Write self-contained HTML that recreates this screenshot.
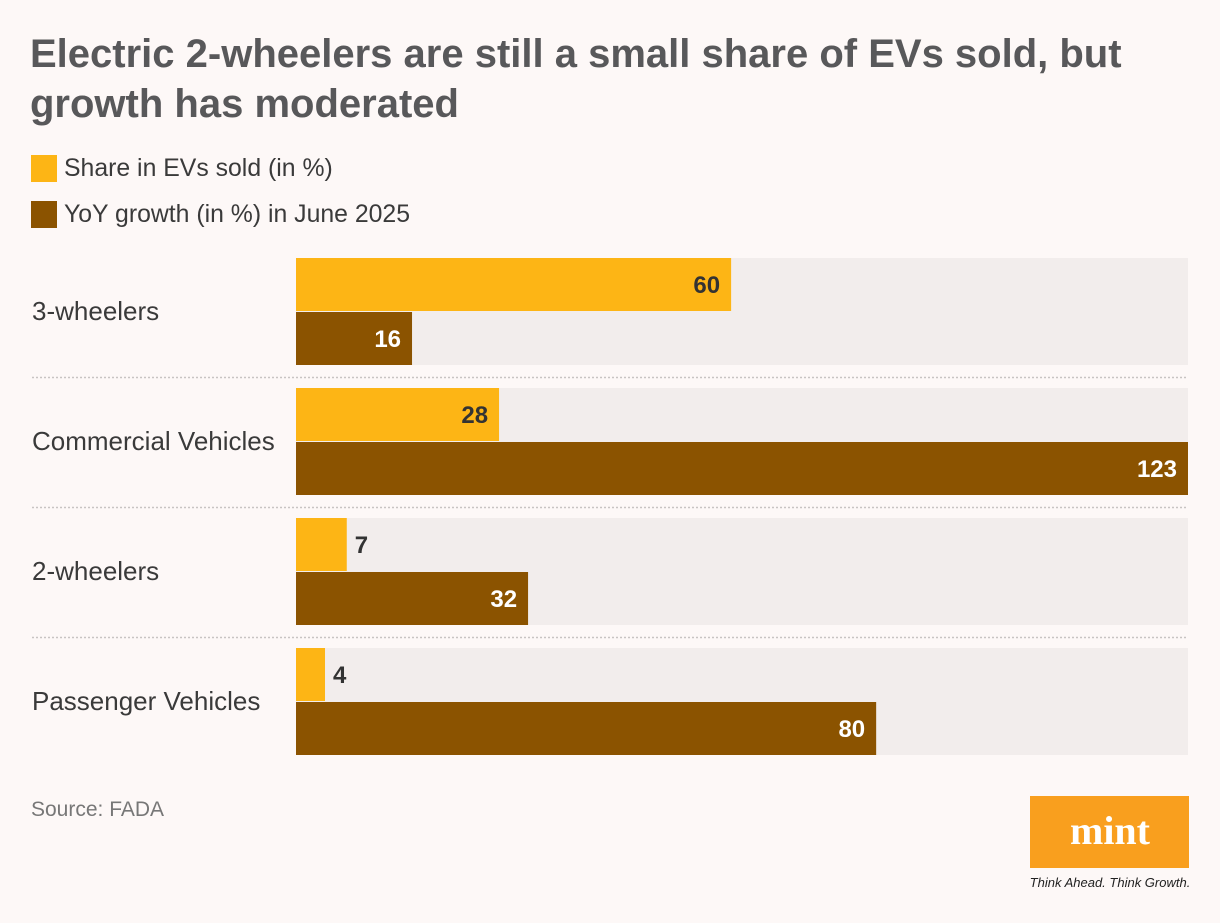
<!DOCTYPE html>
<html><head><meta charset="utf-8"><style>
body{margin:0;background:#fdf8f7;width:1220px;height:918px;overflow:hidden;font-family:"Liberation Sans",sans-serif;}
</style></head><body>
<svg id="chart" width="1220" height="918" xmlns="http://www.w3.org/2000/svg">
<rect width="1220" height="918" fill="#fdf8f7"/>
<text x="30" y="67" font-size="40" font-weight="bold" fill="#58585a">Electric 2-wheelers are still a small share of EVs sold, but</text>
<text x="30" y="117" font-size="40" font-weight="bold" fill="#58585a">growth has moderated</text>
<g>
<rect x="31" y="155" width="26" height="27" fill="#fdb515"/>
<text x="64" y="176" font-size="24.8" fill="#3a3a3a">Share in EVs sold (in %)</text>
<rect x="31" y="201" width="26" height="27" fill="#8b5300"/>
<text x="64" y="222" font-size="24.8" fill="#3a3a3a">YoY growth (in %) in June 2025</text>
</g>
<g id="plot"></g>
<text x="31" y="816" font-size="21" fill="#777">Source: FADA</text>
<rect x="1030" y="796" width="159" height="72" fill="#f99f1e"/>
<text x="1110" y="844" font-size="40" font-weight="bold" fill="#fff" text-anchor="middle" font-family="Liberation Serif,serif">mint</text>
<text x="1110" y="887" font-size="13" font-style="italic" fill="#222" text-anchor="middle">Think Ahead. Think Growth.</text>
</svg>
<script>
const categories=["3-wheelers","Commercial Vehicles","2-wheelers","Passenger Vehicles"];
const shareValues=[60,28,7,4];
const growthValues=[16,123,32,80];
const xMax=123;
const x0=296,x1=1188,top0=258,pitch=130,barH=53;
const xs=v=>x0+(v/xMax)*(x1-x0);
const NS="http://www.w3.org/2000/svg";
const plot=document.getElementById('plot');
function mk(tag,attrs){const e=document.createElementNS(NS,tag);for(const k in attrs)e.setAttribute(k,attrs[k]);plot.appendChild(e);return e;}
categories.forEach((c,i)=>{
  const y=top0+i*pitch;
  let bg=mk('rect',{x:x0,y:y,width:x1-x0,height:barH*2+1,fill:'#f2edec'});
  
  
  let lab=mk('text',{x:32,y:y+62,'font-size':26,fill:'#3a3a3a'});
  lab.textContent=c;
  
  
  const s=shareValues[i],g=growthValues[i];
  let b1=mk('rect',{x:x0,y:y,width:xs(s)-x0,height:barH,fill:'#fdb515'});
  
  
  let b2=mk('rect',{x:x0,y:y+barH+1,width:xs(g)-x0,height:barH,fill:'#8b5300'});
  
  
  const inside1=xs(s)-x0>60;
  let t1=mk('text',{x:inside1?xs(s)-11:xs(s)+8,y:y+35,'font-size':24,'font-weight':'bold',fill:'#333','text-anchor':inside1?'end':'start'});
  t1.textContent=s;
  
  
  let t2=mk('text',{x:xs(g)-11,y:y+barH+36,'font-size':24,'font-weight':'bold',fill:'#fff','text-anchor':'end'});
  t2.textContent=g;
  
  
  if(i<categories.length-1){
    let l=mk('line',{x1:32,x2:x1,y1:y+119.5,y2:y+119.5,stroke:'#c8c4c3','stroke-width':1.5,'stroke-dasharray':'2,2'});
    
    
  }
});
</script>
</body></html>
